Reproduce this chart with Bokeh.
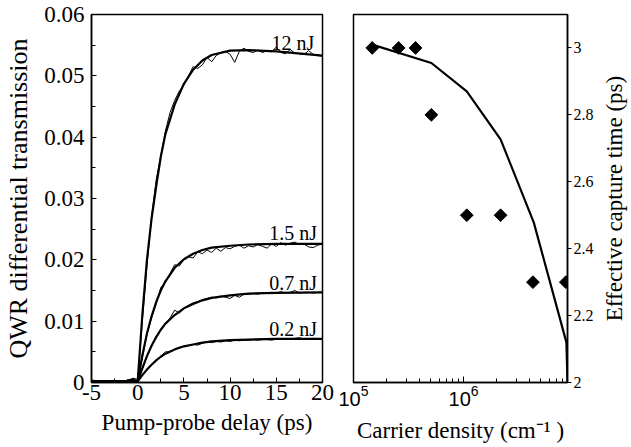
import math
from bokeh.plotting import figure
from bokeh.layouts import row
from bokeh.models import Range1d, FixedTicker, Label
from bokeh.embed import file_html
from bokeh.resources import INLINE

# ---------------- left panel data ----------------
delay_data = [-5.0, -4.5, -4.0, -3.5, -3.0, -2.5, -2.0, -1.5, -1.0, -0.5,
              0.0, 0.5, 1.0, 1.5, 2.0, 2.5, 3.0, 3.5, 4.0, 4.5,
              5.0, 5.5, 6.0, 6.5, 7.0, 7.5, 8.0, 8.5, 9.0, 9.5,
              10.0, 10.5, 11.0, 11.5, 12.0, 12.5, 13.0, 13.5, 14.0, 14.5,
              15.0, 15.5, 16.0, 16.5, 17.0, 17.5, 18.0, 18.5, 19.0, 19.5, 20.0]

dt_12nJ = [0.0004, 0.0003, 0.0002, 0.0003, 0.0002, 0.0002, 0.0003, 0.0002, 0.0004, 0.0007,
           0.0005, 0.010, 0.019, 0.027, 0.033, 0.037, 0.041, 0.044, 0.046, 0.0475,
           0.0485, 0.050, 0.0515, 0.0512, 0.0518, 0.0530, 0.0523, 0.0533, 0.0538, 0.0540,
           0.0535, 0.0522, 0.0540, 0.0545, 0.0540, 0.0538, 0.0542, 0.0538, 0.0541, 0.0539,
           0.0547, 0.0538, 0.0536, 0.0543, 0.0537, 0.0536, 0.0535, 0.0541, 0.0535, 0.0533, 0.0532]
dt_1p5nJ = [0.0003, 0.0002, 0.0003, 0.0002, 0.0003, 0.0003, 0.0002, 0.0003, 0.0003, 0.0005,
            0.0003, 0.0040, 0.0078, 0.0105, 0.0128, 0.0155, 0.0163, 0.0178, 0.0192, 0.0190,
            0.0200, 0.0205, 0.0203, 0.0213, 0.0210, 0.0216, 0.0212, 0.0219, 0.0214, 0.0220,
            0.0218, 0.0222, 0.0224, 0.0219, 0.0223, 0.0221, 0.0225, 0.0222, 0.0219, 0.0226,
            0.0222, 0.0228, 0.0224, 0.0227, 0.0229, 0.0225, 0.0226, 0.0221, 0.0220, 0.0224, 0.0226]
dt_0p7nJ = [0.0002, 0.0003, 0.0002, 0.0002, 0.0003, 0.0002, 0.0003, 0.0002, 0.0005, 0.0004,
            0.0002, 0.0022, 0.0042, 0.0060, 0.0075, 0.0087, 0.0095, 0.0105, 0.0118, 0.0113,
            0.0121, 0.0126, 0.0130, 0.0132, 0.0135, 0.0137, 0.0139, 0.0138, 0.0141, 0.0139,
            0.0137, 0.0142, 0.0139, 0.0144, 0.0144, 0.0145, 0.0144, 0.0146, 0.0145, 0.0147,
            0.0146, 0.0148, 0.0146, 0.0147, 0.0150, 0.0146, 0.0147, 0.0147, 0.0146, 0.0147, 0.0147]
dt_0p2nJ = [0.0003, 0.0002, 0.0002, 0.0003, 0.0002, 0.0003, 0.0002, 0.0003, 0.0002, 0.0006,
            0.0002, 0.0012, 0.0021, 0.0028, 0.0036, 0.0043, 0.0050, 0.0050, 0.0054, 0.0057,
            0.0059, 0.0060, 0.0062, 0.0061, 0.0064, 0.0066, 0.0065, 0.0067, 0.0066, 0.0068,
            0.0067, 0.0069, 0.0068, 0.0069, 0.0069, 0.0070, 0.0069, 0.0070, 0.0070, 0.0069,
            0.0071, 0.0070, 0.0071, 0.0070, 0.0072, 0.0073, 0.0071, 0.0071, 0.0072, 0.0071, 0.0071]

delay_fit = [-5, 0, 0.5, 1, 1.5, 2, 2.5, 3, 4, 5, 6, 7, 8, 10, 12, 15, 20]
fit_12nJ = [0.0002, 0.0002, 0.011, 0.020, 0.0267, 0.032, 0.0368, 0.0405, 0.0453, 0.0487,
            0.0510, 0.0525, 0.0534, 0.0541, 0.0542, 0.0540, 0.0533]
fit_1p5nJ = [0.0002, 0.0002, 0.0044, 0.0080, 0.0108, 0.0131, 0.0150, 0.0165, 0.0187, 0.0201,
             0.0210, 0.0216, 0.0220, 0.0223, 0.0225, 0.0226, 0.0226]
fit_0p7nJ = [0.0002, 0.0002, 0.0023, 0.0043, 0.0060, 0.0074, 0.0086, 0.0096, 0.0110, 0.0121,
             0.0128, 0.0134, 0.0138, 0.0142, 0.0145, 0.0146, 0.0147]
fit_0p2nJ = [0.0002, 0.0002, 0.0012, 0.0021, 0.0029, 0.0036, 0.0042, 0.0047, 0.0054, 0.0059,
             0.0062, 0.0065, 0.0067, 0.0069, 0.0070, 0.0071, 0.0071]

pulse_names = ["12 nJ", "1.5 nJ", "0.7 nJ", "0.2 nJ"]

x_ticks_left = [-5, 0, 5, 10, 15, 20]
y_ticks_left = [0, 0.01, 0.02, 0.03, 0.04, 0.05, 0.06]

# ---------------- right panel data ----------------
density_meas = [1.48e5, 2.57e5, 3.66e5, 5.1e5, 1.07e6, 2.17e6, 4.27e6, 8.5e6]
capture_meas = [3.0, 3.0, 3.0, 2.8, 2.5, 2.5, 2.3, 2.3]
density_model = [1.48e5, 5.1e5, 1.07e6, 2.17e6, 4.35e6, 8.6e6, 8.8e6]
capture_model = [3.01, 2.955, 2.87, 2.727, 2.478, 2.12, 2.0]
x_decades_right = [1e5, 1e6]
y_ticks_right = [2, 2.2, 2.4, 2.6, 2.8, 3]

SERIF = "Liberation Serif"
SANS = "Liberation Sans"
H = 445
TOP = 14
BOTTOM = 63


def style_axis(ax):
    ax.axis_line_color = "black"
    ax.axis_line_width = 1.5
    ax.major_tick_line_color = "black"
    ax.minor_tick_line_color = "black"
    ax.major_label_text_color = "black"
    ax.axis_label_text_color = "black"
    ax.axis_label_text_font = SERIF
    ax.axis_label_text_font_style = "normal"
    ax.major_label_text_font = SERIF


# ---------------- left figure ----------------
p1 = figure(width=338, height=H, x_range=Range1d(-5, 20), y_range=Range1d(0, 0.06),
            output_backend="svg", toolbar_location=None,
            min_border_left=91, min_border_right=16, min_border_top=TOP, min_border_bottom=BOTTOM)
p1.grid.visible = False
p1.outline_line_color = "black"
p1.outline_line_width = 1.5

xa = p1.xaxis[0]
ya = p1.yaxis[0]
style_axis(xa)
style_axis(ya)
xa.ticker = FixedTicker(ticks=x_ticks_left,
                        minor_ticks=[(a + b) / 2 for a, b in zip(x_ticks_left[:-1], x_ticks_left[1:])])
ya.ticker = FixedTicker(ticks=y_ticks_left,
                        minor_ticks=[(a + b) / 2 for a, b in zip(y_ticks_left[:-1], y_ticks_left[1:])])
for ax in (xa, ya):
    ax.major_tick_in = 5
    ax.major_tick_out = 0
    ax.minor_tick_in = 4
    ax.minor_tick_out = 0
    ax.major_label_text_font_size = "23px"
xa.axis_label_text_font_size = "23px"
ya.axis_label_text_font_size = "26px"
ya.major_label_overrides = {0: "0"}
xa.major_label_overrides = {-5: "-5"}
xa.major_label_standoff = 2
ya.major_label_standoff = 7
xa.axis_label = "Pump-probe delay (ps)"
ya.axis_label = "QWR differential transmission"
xa.axis_label_standoff = 7
ya.axis_label_standoff = 8

for d in (dt_12nJ, dt_1p5nJ, dt_0p7nJ, dt_0p2nJ):
    p1.line(delay_data, d, line_color="black", line_width=1)
for f in (fit_12nJ, fit_1p5nJ, fit_0p7nJ, fit_0p2nJ):
    p1.line(delay_fit, f, line_color="black", line_width=2.2)

label_pos = [(19.1, 0.0554), (19.4, 0.0244), (19.4, 0.0163), (19.4, 0.0087)]
for name, (lx, ly) in zip(pulse_names, label_pos):
    p1.add_layout(Label(x=lx, y=ly, text=name, text_align="right", text_baseline="alphabetic",
                        text_font=SERIF, text_font_size="20px", text_color="black"))

# ---------------- right figure ----------------
p2 = figure(width=263, height=H, x_axis_type="log", x_range=Range1d(1e5, 8.8e6),
            y_range=Range1d(2, 3.1), y_axis_location="right",
            output_backend="svg", toolbar_location=None,
            min_border_left=15, min_border_right=34, min_border_top=TOP - 1, min_border_bottom=BOTTOM)
p2.grid.visible = False
p2.outline_line_color = "black"
p2.outline_line_width = 1.5

xb = p2.xaxis[0]
yb = p2.yaxis[0]
style_axis(xb)
style_axis(yb)
xb.ticker = FixedTicker(ticks=x_decades_right,
                        minor_ticks=[m * d for d in x_decades_right for m in range(2, 10)
                                     if m * d < p2.x_range.end])
xb.major_tick_in = 6
xb.major_tick_out = 0
xb.minor_tick_in = 4
xb.minor_tick_out = 0
xb.major_label_text_font = SANS
xb.major_label_text_font_size = "20px"
xb.major_label_standoff = 2
xb.axis_label = "Carrier density (cm\u207b\u00b9 )"
xb.axis_label_text_font_size = "23px"
xb.axis_label_standoff = 9

yb.ticker = FixedTicker(ticks=y_ticks_right)
yb.major_tick_in = 0
yb.major_tick_out = 4
yb.major_label_standoff = 2
yb.major_label_text_font_size = "16px"
yb.major_label_overrides = {2: "2", 3: "3"}

p2.line(density_model, capture_model, line_color="black", line_width=2.2)
p2.scatter(density_meas, capture_meas, marker="square", angle=math.pi / 4, size=9,
           fill_color="black", line_color="black")

# ---------------- narrow strip holding the right-hand axis title ----------------
p3 = figure(width=28, height=H, x_range=Range1d(0, 1), y_range=Range1d(2, 3.1),
            x_axis_location=None, y_axis_location=None,
            output_backend="svg", toolbar_location=None,
            min_border_left=0, min_border_right=0, min_border_top=TOP - 1, min_border_bottom=BOTTOM)
p3.grid.visible = False
p3.outline_line_color = None
p3.add_layout(Label(x=0, y=2.55, text="Effective capture time (ps)", angle=math.pi / 2,
                    text_align="center", text_baseline="top",
                    text_font=SERIF, text_font_size="23px", text_color="black"))

layout = row(p1, p2, p3)
open("out.html", "w").write(file_html(layout, INLINE))
